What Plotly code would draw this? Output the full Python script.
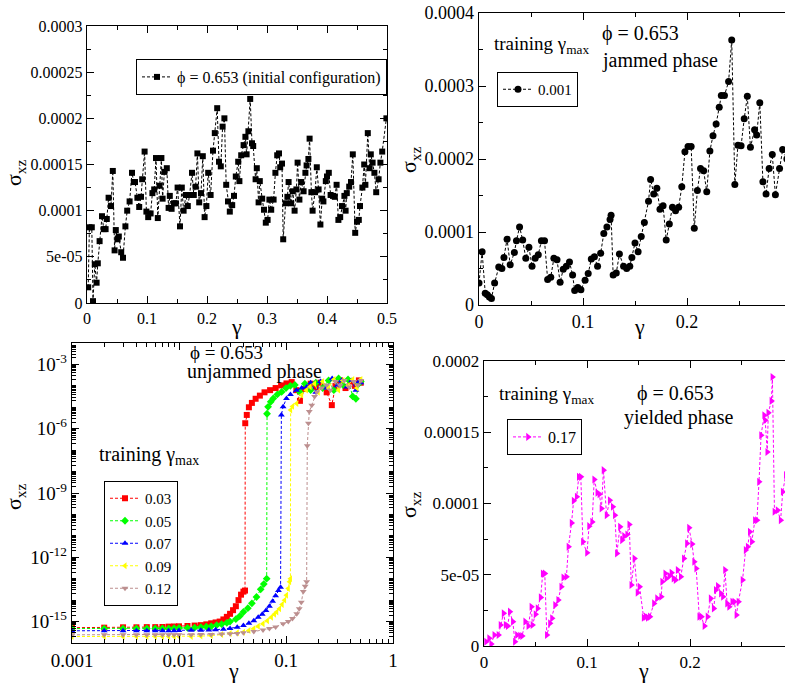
import plotly.graph_objects as go

# ---------------- data ----------------
# Panel 1: initial configuration, phi = 0.653
p1_gamma = [
    0.002, 0.004, 0.008, 0.010, 0.013, 0.016, 0.018, 0.021, 0.025, 0.028,
    0.031, 0.033, 0.036, 0.040, 0.043, 0.046, 0.048, 0.051, 0.053, 0.057,
    0.060, 0.064, 0.067, 0.071, 0.075, 0.078, 0.080, 0.084, 0.087, 0.090,
    0.092, 0.096, 0.099, 0.102, 0.106, 0.109, 0.112, 0.115, 0.118, 0.121,
    0.124, 0.126, 0.129, 0.133, 0.136, 0.138, 0.141, 0.145, 0.148, 0.151,
    0.155, 0.158, 0.161, 0.165, 0.168, 0.171, 0.175, 0.178, 0.181, 0.184,
    0.187, 0.190, 0.193, 0.196, 0.199, 0.202, 0.206, 0.210, 0.213, 0.217,
    0.220, 0.223, 0.226, 0.229, 0.232, 0.235, 0.238, 0.242, 0.245, 0.248,
    0.252, 0.254, 0.257, 0.261, 0.264, 0.266, 0.269, 0.272, 0.275, 0.277,
    0.281, 0.283, 0.286, 0.288, 0.292, 0.295, 0.298, 0.301, 0.304, 0.307,
    0.311, 0.314, 0.317, 0.320, 0.322, 0.325, 0.327, 0.331, 0.334, 0.336,
    0.340, 0.343, 0.346, 0.349, 0.351, 0.354, 0.357, 0.361, 0.364, 0.366,
    0.369, 0.371, 0.374, 0.376, 0.380, 0.383, 0.386, 0.389, 0.392, 0.394,
    0.398, 0.400, 0.403, 0.406, 0.410, 0.413, 0.416, 0.419, 0.422, 0.425,
    0.429, 0.431, 0.433, 0.437, 0.440, 0.443, 0.447, 0.450, 0.453, 0.455,
    0.459, 0.462, 0.464, 0.468, 0.471, 0.473, 0.476, 0.479, 0.482, 0.486,
    0.489, 0.492, 0.499,
]
p1_sigma = [
    0.17e-4, 0.82e-4, 0.82e-4, 0.02e-4, 0.42e-4, 0.22e-4, 0.43e-4, 0.67e-4, 0.94e-4, 0.80e-4,
    0.80e-4, 0.91e-4, 1.14e-4, 1.05e-4, 1.43e-4, 0.57e-4, 0.79e-4, 0.69e-4, 0.72e-4, 0.55e-4,
    0.49e-4, 0.83e-4, 1.00e-4, 1.10e-4, 1.41e-4, 1.31e-4, 1.31e-4, 1.14e-4, 1.04e-4, 1.15e-4,
    1.34e-4, 1.64e-4, 0.99e-4, 0.93e-4, 0.97e-4, 1.19e-4, 1.23e-4, 1.57e-4, 0.92e-4, 1.27e-4,
    1.57e-4, 1.13e-4, 1.42e-4, 1.46e-4, 1.03e-4, 1.16e-4, 1.02e-4, 1.08e-4, 1.08e-4, 1.25e-4,
    0.83e-4, 1.25e-4, 1.00e-4, 1.17e-4, 1.05e-4, 1.17e-4, 1.41e-4, 1.17e-4, 1.26e-4, 1.62e-4,
    1.09e-4, 1.19e-4, 1.59e-4, 0.93e-4, 1.05e-4, 1.41e-4, 1.17e-4, 1.65e-4, 1.84e-4, 2.11e-4,
    1.53e-4, 1.48e-4, 1.91e-4, 2.00e-4, 1.28e-4, 1.10e-4, 0.99e-4, 1.06e-4, 1.16e-4, 1.37e-4,
    1.53e-4, 1.32e-4, 1.60e-4, 1.71e-4, 1.80e-4, 1.61e-4, 1.86e-4, 2.21e-4, 1.73e-4, 1.70e-4,
    1.34e-4, 1.46e-4, 1.09e-4, 1.32e-4, 1.13e-4, 1.01e-4, 0.87e-4, 0.90e-4, 1.12e-4, 1.01e-4,
    1.12e-4, 1.41e-4, 1.60e-4, 1.62e-4, 1.47e-4, 1.51e-4, 0.69e-4, 1.08e-4, 1.15e-4, 1.31e-4,
    1.08e-4, 1.21e-4, 1.00e-4, 1.23e-4, 1.52e-4, 1.12e-4, 1.31e-4, 1.21e-4, 1.41e-4, 1.49e-4,
    1.56e-4, 1.78e-4, 1.20e-4, 1.00e-4, 1.20e-4, 1.47e-4, 1.23e-4, 0.85e-4, 1.13e-4, 1.10e-4,
    1.32e-4, 1.37e-4, 1.41e-4, 1.17e-4, 1.16e-4, 1.15e-4, 1.28e-4, 0.90e-4, 0.93e-4, 1.05e-4,
    1.16e-4, 1.00e-4, 1.19e-4, 1.26e-4, 1.31e-4, 1.61e-4, 0.76e-4, 0.88e-4, 0.90e-4, 1.05e-4,
    1.25e-4, 1.50e-4, 1.28e-4, 1.84e-4, 1.46e-4, 1.61e-4, 1.52e-4, 1.41e-4, 1.20e-4, 1.34e-4,
    1.52e-4, 1.64e-4, 2.00e-4,
]

# Panel 2: training gamma_max = 0.001 (jammed phase)
p2_gamma = [
    0.000, 0.003, 0.006, 0.008, 0.010, 0.012, 0.015, 0.019, 0.022, 0.024,
    0.027, 0.030, 0.034, 0.036, 0.039, 0.042, 0.045, 0.048, 0.051, 0.054,
    0.057, 0.060, 0.063, 0.066, 0.069, 0.072, 0.075, 0.078, 0.081, 0.084,
    0.087, 0.090, 0.092, 0.095, 0.098, 0.102, 0.105, 0.108, 0.111, 0.114,
    0.117, 0.120, 0.123, 0.126, 0.127, 0.129, 0.132, 0.135, 0.139, 0.142,
    0.145, 0.147, 0.150, 0.153, 0.156, 0.159, 0.163, 0.165, 0.168, 0.171,
    0.174, 0.177, 0.180, 0.183, 0.186, 0.189, 0.192, 0.195, 0.198, 0.201,
    0.204, 0.207, 0.210, 0.213, 0.216, 0.219, 0.222, 0.225, 0.228, 0.231,
    0.233, 0.236, 0.240, 0.243, 0.246, 0.249, 0.252, 0.255, 0.258, 0.261,
    0.265, 0.267, 0.270, 0.273, 0.276, 0.279, 0.282, 0.285, 0.289, 0.292,
    0.296,
]
p2_sigma = [
    0.30e-4, 0.73e-4, 0.16e-4, 0.14e-4, 0.11e-4, 0.09e-4, 0.30e-4, 0.52e-4, 0.50e-4, 0.65e-4,
    0.90e-4, 0.55e-4, 0.72e-4, 0.88e-4, 1.07e-4, 0.89e-4, 0.64e-4, 0.79e-4, 0.53e-4, 0.64e-4,
    0.69e-4, 0.88e-4, 0.88e-4, 0.35e-4, 0.38e-4, 0.64e-4, 0.62e-4, 0.31e-4, 0.49e-4, 0.53e-4,
    0.59e-4, 0.41e-4, 0.20e-4, 0.24e-4, 0.21e-4, 0.34e-4, 0.43e-4, 0.63e-4, 0.66e-4, 0.53e-4,
    0.71e-4, 0.98e-4, 1.07e-4, 1.17e-4, 1.23e-4, 0.41e-4, 0.44e-4, 0.70e-4, 0.53e-4, 0.50e-4,
    0.53e-4, 0.65e-4, 0.85e-4, 0.73e-4, 0.94e-4, 1.13e-4, 1.42e-4, 1.72e-4, 1.52e-4, 1.60e-4,
    1.31e-4, 1.36e-4, 0.89e-4, 1.11e-4, 1.34e-4, 1.29e-4, 1.34e-4, 1.62e-4, 2.10e-4, 2.17e-4,
    2.17e-4, 1.05e-4, 1.57e-4, 1.87e-4, 1.84e-4, 1.55e-4, 2.11e-4, 2.32e-4, 2.48e-4, 2.71e-4,
    2.87e-4, 2.87e-4, 3.06e-4, 3.63e-4, 1.65e-4, 2.19e-4, 2.18e-4, 2.55e-4, 2.86e-4, 2.16e-4,
    2.40e-4, 2.33e-4, 2.77e-4, 1.69e-4, 1.52e-4, 1.87e-4, 2.06e-4, 1.51e-4, 1.87e-4, 2.13e-4,
    2.00e-4,
]

# Panel 3: unjammed phase, several training gamma_max (log-log)
red_gamma = [0.001, 0.002, 0.003, 0.004, 0.005, 0.006, 0.007, 0.008, 0.009, 0.010,
             0.012, 0.014, 0.016, 0.018, 0.020, 0.022, 0.024, 0.026, 0.028, 0.030,
             0.032, 0.034, 0.036, 0.038, 0.040, 0.0414,
             0.0416, 0.043, 0.045, 0.048, 0.052, 0.057, 0.063, 0.071, 0.080, 0.090,
             0.101, 0.113, 0.125, 0.135, 0.150, 0.170, 0.190, 0.210, 0.240, 0.268,
             0.290, 0.320, 0.360, 0.400, 0.440, 0.480, 0.500]
red_sigma = [5.2e-16, 5.2e-16, 5.4e-16, 5.4e-16, 5.5e-16, 5.5e-16, 5.6e-16, 5.8e-16, 5.9e-16, 6.0e-16,
             6.2e-16, 6.5e-16, 6.8e-16, 7.4e-16, 8.3e-16, 9.1e-16, 1.0e-15, 1.26e-15, 1.66e-15, 2.3e-15,
             3.4e-15, 5.2e-15, 1.0e-14, 1.8e-14, 2.5e-14, 2.8e-14,
             1.8e-6, 4.4e-6, 1.0e-5, 1.6e-5, 2.5e-5, 3.5e-5, 5.0e-5, 6.3e-5, 7.9e-5, 1.05e-4,
             1.3e-4, 1.5e-4, 6.3e-5, 2.0e-5, 7.1e-5, 1.26e-4, 8.9e-5, 1.4e-4, 5.0e-5, 1.26e-5,
             1.0e-4, 1.8e-4, 7.9e-5, 1.6e-4, 1.0e-4, 1.8e-4, 1.4e-4]

green_gamma = [0.001, 0.002, 0.003, 0.004, 0.005, 0.006, 0.007, 0.008, 0.009, 0.010,
               0.012, 0.014, 0.016, 0.018, 0.020, 0.0225, 0.025, 0.028, 0.030, 0.034,
               0.037, 0.040, 0.044, 0.048, 0.053, 0.058, 0.062, 0.066,
               0.0665, 0.068, 0.072, 0.076, 0.083, 0.091, 0.100, 0.110, 0.121, 0.135,
               0.150, 0.170, 0.190, 0.220, 0.250, 0.280, 0.310, 0.340, 0.380, 0.420,
               0.450, 0.480, 0.500]
green_sigma = [4.7e-16, 4.7e-16, 4.7e-16, 4.8e-16, 4.8e-16, 4.8e-16, 4.8e-16, 4.8e-16, 4.9e-16, 5.0e-16,
               5.1e-16, 5.2e-16, 5.5e-16, 5.8e-16, 6.0e-16, 6.8e-16, 7.6e-16, 8.7e-16, 1.0e-15, 1.3e-15,
               1.8e-15, 2.8e-15, 4.2e-15, 7.1e-15, 1.4e-14, 3.2e-14, 5.6e-14, 1.0e-13,
               5.0e-6, 1.05e-5, 1.8e-5, 2.6e-5, 4.0e-5, 5.2e-5, 7.9e-5, 1.0e-4, 1.1e-4, 5.0e-5,
               1.26e-4, 6.3e-5, 1.4e-4, 7.9e-5, 1.8e-4, 6.3e-5, 2.2e-4, 1.1e-4, 2.0e-4, 3.2e-5,
               2.5e-5, 1.26e-4, 1.6e-4]

blue_gamma = [0.001, 0.002, 0.003, 0.004, 0.005, 0.006, 0.007, 0.008, 0.009, 0.010,
              0.013, 0.016, 0.019, 0.022, 0.026, 0.030, 0.035, 0.040, 0.045, 0.050,
              0.055, 0.060, 0.065, 0.070, 0.075, 0.080, 0.085, 0.089,
              0.0905, 0.094, 0.101, 0.110, 0.125, 0.140, 0.156, 0.170, 0.190, 0.210,
              0.240, 0.270, 0.300, 0.330, 0.370, 0.410, 0.450, 0.480, 0.500]
blue_sigma = [3.7e-16, 3.7e-16, 3.7e-16, 3.7e-16, 3.7e-16, 3.7e-16, 3.7e-16, 3.7e-16, 3.7e-16, 3.8e-16,
              3.9e-16, 3.9e-16, 4.0e-16, 4.1e-16, 4.4e-16, 4.7e-16, 5.4e-16, 6.6e-16, 8.3e-16, 1.1e-15,
              1.6e-15, 2.2e-15, 3.3e-15, 5.2e-15, 8.9e-15, 1.6e-14, 2.8e-14, 4.0e-14,
              4.4e-6, 1.05e-5, 2.6e-5, 4.0e-5, 6.3e-5, 7.9e-5, 8.9e-5, 1.4e-4, 5.0e-5, 1.6e-4,
              7.9e-5, 2.2e-4, 1.0e-4, 1.8e-4, 8.9e-5, 1.8e-4, 6.3e-5, 1.6e-4, 1.4e-4]

yellow_gamma = [0.001, 0.002, 0.003, 0.004, 0.005, 0.006, 0.007, 0.008, 0.009, 0.010,
                0.013, 0.016, 0.020, 0.025, 0.030, 0.035, 0.040, 0.045, 0.050, 0.055,
                0.061, 0.067, 0.073, 0.078, 0.082, 0.087, 0.092, 0.097, 0.101, 0.105,
                0.108, 0.110,
                0.1105, 0.115, 0.126, 0.140, 0.155, 0.168, 0.185, 0.200, 0.220, 0.250,
                0.280, 0.310, 0.340, 0.380, 0.420, 0.460, 0.500]
yellow_sigma = [2.0e-16, 2.0e-16, 2.0e-16, 2.0e-16, 2.0e-16, 2.0e-16, 2.0e-16, 2.0e-16, 2.0e-16, 2.0e-16,
                2.0e-16, 2.1e-16, 2.2e-16, 2.5e-16, 2.8e-16, 3.0e-16, 3.2e-16, 3.8e-16, 4.7e-16, 6.0e-16,
                7.9e-16, 1.1e-15, 1.6e-15, 2.2e-15, 2.8e-15, 4.0e-15, 6.3e-15, 1.0e-14, 1.7e-14, 3.5e-14,
                7.2e-14, 1.0e-13,
                7.4e-6, 1.1e-5, 1.5e-5, 3.7e-5, 6.3e-5, 9.1e-5, 1.26e-4, 5.0e-5, 1.6e-4, 7.9e-5,
                2.0e-4, 6.3e-5, 1.8e-4, 1.0e-4, 2.0e-4, 7.9e-5, 2.0e-4]

brown_gamma = [0.001, 0.002, 0.003, 0.004, 0.005, 0.006, 0.007, 0.008, 0.009, 0.010,
               0.013, 0.016, 0.020, 0.025, 0.030, 0.035, 0.040, 0.050, 0.061, 0.070,
               0.080, 0.094, 0.105, 0.115, 0.126, 0.133, 0.139, 0.145, 0.151, 0.156,
               0.158, 0.162, 0.165, 0.174, 0.185, 0.194, 0.215, 0.240, 0.260, 0.290,
               0.320, 0.350, 0.390, 0.430, 0.470, 0.500]
brown_sigma = [2.4e-16, 2.4e-16, 2.4e-16, 2.4e-16, 2.4e-16, 2.4e-16, 2.4e-16, 2.4e-16, 2.4e-16, 2.4e-16,
               2.4e-16, 2.5e-16, 2.5e-16, 2.6e-16, 2.7e-16, 2.8e-16, 3.0e-16, 3.4e-16, 4.0e-16, 4.7e-16,
               5.6e-16, 7.9e-16, 1.0e-15, 1.4e-15, 2.3e-15, 4.0e-15, 7.9e-15, 2.5e-14, 4.5e-14, 7.2e-14,
               1.6e-7, 1.8e-6, 6.3e-6, 1.26e-5, 3.2e-5, 5.2e-5, 7.9e-5, 1.1e-4, 6.3e-5, 1.6e-4,
               1.0e-4, 1.8e-4, 8.9e-5, 1.6e-4, 1.1e-4, 1.8e-4]

p3_labels = ["0.03", "0.05", "0.07", "0.09", "0.12"]

# Panel 4: training gamma_max = 0.17 (yielded phase)
p4_gamma = [
    0.002, 0.005, 0.007, 0.010, 0.014, 0.016, 0.019, 0.021, 0.023, 0.025,
    0.028, 0.030, 0.032, 0.035, 0.037, 0.040, 0.043, 0.046, 0.047, 0.050,
    0.052, 0.055, 0.057, 0.059, 0.061, 0.064, 0.066, 0.069, 0.072, 0.075,
    0.077, 0.080, 0.082, 0.085, 0.087, 0.090, 0.092, 0.094, 0.096, 0.100,
    0.102, 0.105, 0.107, 0.110, 0.112, 0.114, 0.116, 0.119, 0.122, 0.125,
    0.127, 0.129, 0.132, 0.134, 0.136, 0.139, 0.141, 0.143, 0.146, 0.149,
    0.151, 0.155, 0.157, 0.159, 0.161, 0.165, 0.168, 0.172, 0.173, 0.176,
    0.177, 0.180, 0.182, 0.184, 0.186, 0.188, 0.191, 0.194, 0.197, 0.199,
    0.202, 0.204, 0.206, 0.209, 0.211, 0.214, 0.217, 0.220, 0.223, 0.225,
    0.227, 0.230, 0.232, 0.234, 0.236, 0.238, 0.241, 0.243, 0.245, 0.247,
    0.251, 0.254, 0.256, 0.258, 0.260, 0.263, 0.265, 0.267, 0.269, 0.272,
    0.273, 0.275, 0.276, 0.279, 0.280, 0.282, 0.285, 0.288, 0.290, 0.293,
]
p4_sigma = [
    0.30e-5, 0.54e-5, 0.14e-5, 0.77e-5, 0.77e-5, 1.47e-5, 2.29e-5, 1.47e-5, 1.40e-5, 2.41e-5,
    1.71e-5, 0.30e-5, 0.77e-5, 0.72e-5, 0.70e-5, 1.71e-5, 1.40e-5, 2.76e-5, 1.47e-5, 2.22e-5,
    2.64e-5, 3.41e-5, 5.09e-5, 5.09e-5, 0.77e-5, 1.59e-5, 1.94e-5, 2.87e-5, 3.22e-5, 4.16e-5,
    4.81e-5, 4.86e-5, 6.96e-5, 8.64e-5, 10.19e-5, 10.47e-5, 11.87e-5, 11.87e-5, 7.31e-5, 6.54e-5,
    8.41e-5, 8.71e-5, 11.68e-5, 10.75e-5, 10.65e-5, 9.65e-5, 12.34e-5, 9.18e-5, 10.23e-5, 9.77e-5,
    9.18e-5, 6.50e-5, 8.36e-5, 7.43e-5, 7.71e-5, 7.83e-5, 8.53e-5, 4.28e-5, 6.14e-5, 3.74e-5,
    4.16e-5, 1.99e-5, 2.06e-5, 1.99e-5, 2.06e-5, 2.99e-5, 3.34e-5, 3.46e-5, 4.51e-5, 5.09e-5,
    4.74e-5, 4.91e-5, 5.14e-5, 4.74e-5, 4.63e-5, 5.33e-5, 4.86e-5, 6.14e-5, 7.20e-5, 8.29e-5,
    7.15e-5, 5.91e-5, 5.44e-5, 2.06e-5, 2.06e-5, 1.40e-5, 2.06e-5, 3.34e-5, 2.64e-5, 3.93e-5,
    4.21e-5, 3.69e-5, 3.46e-5, 5.33e-5, 2.99e-5, 2.76e-5, 3.11e-5, 3.11e-5, 2.17e-5, 3.11e-5,
    4.63e-5, 6.73e-5, 6.96e-5, 8.01e-5, 7.31e-5, 8.83e-5, 8.83e-5, 11.52e-5, 14.79e-5, 16.19e-5,
    15.84e-5, 13.62e-5, 16.36e-5, 17.20e-5, 18.88e-5, 9.42e-5, 9.53e-5, 8.83e-5, 10.82e-5, 12.0e-5,
]

# tick labels
p1_x_ticks = [0, 0.1, 0.2, 0.3, 0.4, 0.5]
p1_x_text = ["0", "0.1", "0.2", "0.3", "0.4", "0.5"]
p1_y_ticks = [0, 5e-5, 1e-4, 1.5e-4, 2e-4, 2.5e-4, 3e-4]
p1_y_text = ["0", "5e-05", "0.0001", "0.00015", "0.0002", "0.00025", "0.0003"]
p2_x_ticks = [0, 0.1, 0.2]
p2_x_text = ["0", "0.1", "0.2"]
p2_y_ticks = [0, 1e-4, 2e-4, 3e-4, 4e-4]
p2_y_text = ["0", "0.0001", "0.0002", "0.0003", "0.0004"]
p3_x_ticks = [0.001, 0.01, 0.1, 1]
p3_x_text = ["0.001", "0.01", "0.1", "1"]
p3_y_ticks = [1e-15, 1e-12, 1e-9, 1e-6, 1e-3]
p3_y_text = ["10<sup>-15</sup>", "10<sup>-12</sup>", "10<sup>-9</sup>", "10<sup>-6</sup>", "10<sup>-3</sup>"]
p4_x_ticks = [0, 0.1, 0.2]
p4_x_text = ["0", "0.1", "0.2"]
p4_y_ticks = [0, 5e-5, 1e-4, 1.5e-4, 2e-4]
p4_y_text = ["0", "5e-05", "0.0001", "0.00015", "0.0002"]

for a, b in [(p1_gamma, p1_sigma), (p2_gamma, p2_sigma), (p4_gamma, p4_sigma),
             (red_gamma, red_sigma), (green_gamma, green_sigma), (blue_gamma, blue_sigma),
             (yellow_gamma, yellow_sigma), (brown_gamma, brown_sigma)]:
    assert len(a) == len(b), (len(a), len(b))

# ---------------- figure ----------------
W, H = 785, 684
FONT = "Liberation Serif, Times New Roman, serif"


def px(x):
    return x / W


def py(y):
    return 1 - y / H


DASH = "3px,2px"
fig = go.Figure()

fig.add_trace(go.Scatter(
    x=p1_gamma, y=p1_sigma, xaxis="x", yaxis="y", mode="lines+markers",
    name="ϕ = 0.653 (initial configuration)", legend="legend",
    line=dict(color="black", width=1, dash=DASH),
    marker=dict(symbol="square", size=6, color="black")))

fig.add_trace(go.Scatter(
    x=p2_gamma, y=p2_sigma, xaxis="x2", yaxis="y2", mode="lines+markers",
    name="0.001", legend="legend2",
    line=dict(color="black", width=1, dash=DASH),
    marker=dict(symbol="circle", size=7, color="black")))

p3_series = [
    (red_gamma, red_sigma, "#ff0000", "square"),
    (green_gamma, green_sigma, "#00ff00", "diamond"),
    (blue_gamma, blue_sigma, "#0000ff", "triangle-up"),
    (yellow_gamma, yellow_sigma, "#ffff00", "triangle-left"),
    (brown_gamma, brown_sigma, "#bc8f8f", "triangle-down"),
]
for (gx, gy, col, sym), lab in zip(p3_series, p3_labels):
    fig.add_trace(go.Scatter(
        x=gx, y=gy, xaxis="x3", yaxis="y3", mode="lines+markers",
        name=lab, legend="legend3",
        line=dict(color=col, width=1, dash=DASH),
        marker=dict(symbol=sym, size=6, color=col)))

fig.add_trace(go.Scatter(
    x=p4_gamma, y=p4_sigma, xaxis="x4", yaxis="y4", mode="lines+markers",
    name="0.17", legend="legend4",
    line=dict(color="#ff00ff", width=1, dash=DASH),
    marker=dict(symbol="triangle-right", size=7, color="#ff00ff")))


def lin_minor(step, lo, hi):
    vals = []
    v = lo
    while v <= hi + 1e-12:
        vals.append(round(v, 10))
        v += step
    return vals


def log_minor(d0, d1):
    vals = []
    for d in range(d0, d1 + 1):
        for k in range(1, 10):
            vals.append(k * 10.0 ** d)
    return vals


def axis(domain, rng, tickvals, ticktext, minor_vals, fsize, anchor, mirror=True, typ="linear"):
    return dict(
        domain=domain, range=rng, anchor=anchor, type=typ,
        showline=True, linecolor="black", linewidth=1.3,
        mirror="allticks" if mirror else False,
        ticks="inside", ticklen=7, tickwidth=1, tickcolor="black",
        tickmode="array", tickvals=tickvals, ticktext=ticktext,
        tickfont=dict(family=FONT, size=fsize, color="black"),
        minor=dict(ticks="inside", ticklen=4, tickwidth=1, tickcolor="black",
                   tickmode="array", tickvals=minor_vals, showgrid=False),
        showgrid=False, zeroline=False, automargin=False, fixedrange=True,
    )


layout = dict(
    width=W, height=H,
    margin=dict(l=0, r=0, t=0, b=0, pad=0),
    paper_bgcolor="white", plot_bgcolor="white",
    font=dict(family=FONT, color="black"),
    showlegend=True,
)

# panel 1
layout["xaxis"] = axis([px(87), px(387)], [0, 0.5], p1_x_ticks, p1_x_text,
                       lin_minor(0.05, 0, 0.5), 16, "y")
layout["yaxis"] = axis([py(303), py(26)], [0, 3e-4], p1_y_ticks, p1_y_text,
                       lin_minor(2.5e-5, 0, 3e-4), 16, "x")
# panel 2 (axis continues past the right edge of the picture)
layout["xaxis2"] = axis([px(479), 1.0], [0, (785 - 479) / 1040.0], p2_x_ticks, p2_x_text,
                        lin_minor(0.05, 0, 0.3), 18, "y2")
layout["yaxis2"] = axis([py(305), py(13)], [0, 4e-4], p2_y_ticks, p2_y_text,
                        lin_minor(5e-5, 0, 4e-4), 18, "x2", mirror=False)
# panel 3 (log-log)
layout["xaxis3"] = axis([px(72), px(393)], [-3, 0], p3_x_ticks, p3_x_text,
                        log_minor(-3, -1), 19, "y3", typ="log")
layout["yaxis3"] = axis([py(643), py(343)], [-16, -2], p3_y_ticks, p3_y_text,
                        log_minor(-16, -3), 19, "x3", typ="log")
# panel 4
layout["xaxis4"] = axis([px(484), 1.0], [0, (785 - 484) / 1030.0], p4_x_ticks, p4_x_text,
                        lin_minor(0.05, 0, 0.3), 17, "y4")
layout["yaxis4"] = axis([py(646), py(361)], [0, 2e-4], p4_y_ticks, p4_y_text,
                        lin_minor(2.5e-5, 0, 2e-4), 17, "x4", mirror=False)


def leg(x, y, fsize):
    return dict(x=px(x), y=py(y), xanchor="left", yanchor="top",
                bgcolor="white", bordercolor="black", borderwidth=1,
                font=dict(family=FONT, size=fsize, color="black"),
                itemwidth=30, tracegroupgap=0, itemclick=False, itemdoubleclick=False)


layout["legend"] = leg(136, 59, 16)
layout["legend2"] = leg(497, 72, 15)
layout["legend3"] = leg(104, 481, 15)
layout["legend4"] = leg(507, 419, 16)


def note(text, x, y, size=20, angle=0, xanchor="center"):
    return dict(text=text, x=px(x), y=py(y), xref="paper", yref="paper",
                xanchor=xanchor, yanchor="middle", showarrow=False, textangle=angle,
                font=dict(family=FONT, size=size, color="black"))


layout["annotations"] = [
    # axis titles
    note("σ<sub>xz</sub>", 15, 173, 22, -90),
    note("γ", 236, 326, 22),
    note("σ<sub>xz</sub>", 410, 160, 22, -90),
    note("γ", 639, 326, 22),
    note("σ<sub>xz</sub>", 15, 497, 22, -90),
    note("γ", 233, 670, 22),
    note("σ<sub>xz</sub>", 410, 505, 22, -90),
    note("γ", 643, 670, 22),
    # panel texts
    note("training γ<sub>max</sub>", 492, 45, 19, xanchor="left"),
    note("ϕ = 0.653", 600, 33, 20, xanchor="left"),
    note("jammed phase", 600, 60, 20, xanchor="left"),
    note("ϕ = 0.653", 188, 352, 19, xanchor="left"),
    note("unjammed phase", 185, 371, 20, xanchor="left"),
    note("training γ<sub>max</sub>", 97, 455, 20, xanchor="left"),
    note("training γ<sub>max</sub>", 497, 395, 19, xanchor="left"),
    note("ϕ = 0.653", 635, 393, 20, xanchor="left"),
    note("yielded phase", 622, 417, 20, xanchor="left"),
]

fig.update_layout(**layout)
fig.write_html("out.html", config={"displayModeBar": False, "staticPlot": True})

# remove the browser's default 8px page margin so the figure sits at (0, 0)
with open("out.html", "r", encoding="utf-8") as fh:
    html = fh.read()
html = html.replace("<head>", "<head><style>html,body{margin:0;padding:0;}</style>", 1)
with open("out.html", "w", encoding="utf-8") as fh:
    fh.write(html)
